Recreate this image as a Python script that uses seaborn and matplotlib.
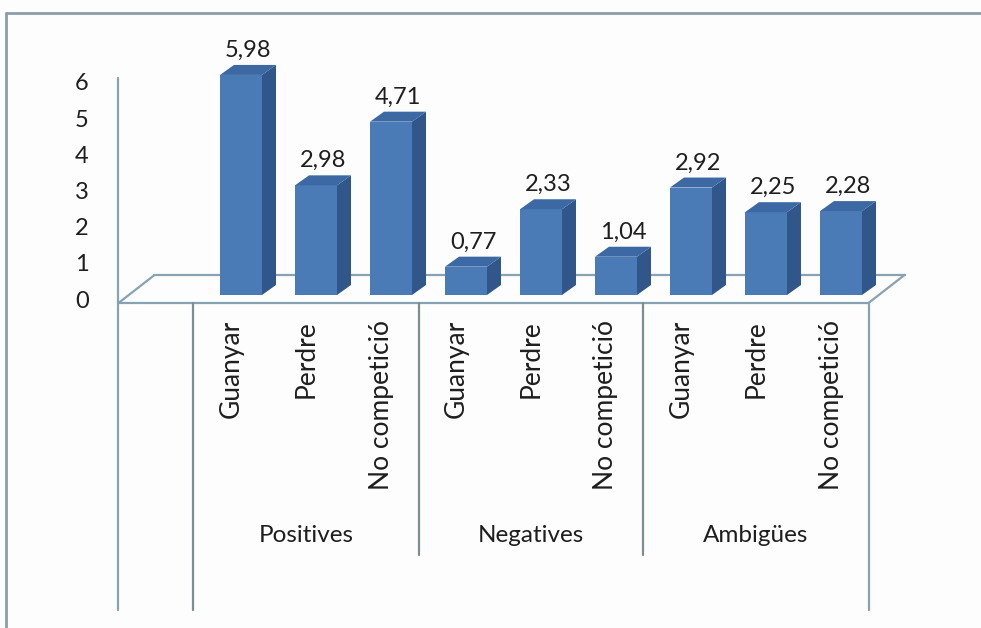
import matplotlib
matplotlib.use("Agg")
import matplotlib.pyplot as plt
import seaborn as sns
import pandas as pd
from matplotlib.patches import Polygon

# ---- data -------------------------------------------------------------
groups = ["Positives", "Negatives", "Ambigües"]
outcomes = ["Guanyar", "Perdre", "No competició"]
values_positives = [5.98, 2.98, 4.71]
values_negatives = [0.77, 2.33, 1.04]
values_ambigues = [2.92, 2.25, 2.28]
y_ticks = [0, 1, 2, 3, 4, 5, 6]

rows = []
for g, vals in zip(groups, [values_positives, values_negatives, values_ambigues]):
    for o, v in zip(outcomes, vals):
        rows.append({"grup": g, "resultat": o, "valor": v})
df = pd.DataFrame(rows)
df["slot"] = [f"{g}|{o}" for g, o in zip(df["grup"], df["resultat"])]

# ---- style ------------------------------------------------------------
sns.set_theme(style="white")
plt.rcParams["font.family"] = ["Lato", "DejaVu Sans"]

FRONT = "#4a7bb7"
SIDE = "#31578a"
TOP = "#3c68a3"
AXIS = "#86a2b3"
DIV = "#7d8d97"
TXT = "#1e1e1e"
FS_VAL = 17
FS_TICK = 17
FS_CAT = 19
FS_GRP = 17.5

W, H = 981, 628
fig = plt.figure(figsize=(W / 100, H / 100), dpi=100)
fig.patch.set_facecolor("#fdfdfd")
ax = fig.add_axes([0, 0, 1, 1])
ax.set_facecolor("#fdfdfd")

# pixel layout of the plot box
X0, DXP = 241.0, 75.0      # centre of the first bar, distance between bars
Y0, DYP = 295.0, 36.8      # baseline of the bars, pixels per unit


def px(p):
    return (p - X0) / DXP


def py(p):
    return (Y0 - p) / DYP


# depth of a column and of the front plane (category axis) offset
dx, dy = 14 / DXP, 10 / DYP
fx = -10 / DXP

sns.barplot(data=df, x="slot", y="valor", order=list(df["slot"]), color=FRONT,
            saturation=1, width=0.56, ax=ax, zorder=3, linewidth=0)

# 3D sides and tops for every column
for patch in list(ax.patches):
    x0 = patch.get_x()
    x1 = x0 + patch.get_width()
    h = patch.get_height()
    ax.add_patch(Polygon([(x1, 0), (x1 + dx, dy), (x1 + dx, h + dy), (x1, h)],
                         closed=True, facecolor=SIDE, edgecolor="none", zorder=3))
    ax.add_patch(Polygon([(x0, h), (x1, h), (x1 + dx, h + dy), (x0 + dx, h + dy)],
                         closed=True, facecolor=TOP, edgecolor="none", zorder=3))
    cx = x0 + patch.get_width() / 2 + dx / 2
    ax.annotate(f"{h:.2f}".replace(".", ","), (cx, h + dy), xytext=(0, 3),
                textcoords="offset points", ha="center", va="bottom",
                fontsize=FS_VAL, color=TXT, zorder=5)

n = len(df)
left, right = -1.5 + fx, n - 0.5 + fx
floor_front = py(303)
floor_back = py(275)
depth_x = px(152) - px(116)

# floor of the 3D box
ax.plot([left + depth_x, right + depth_x], [floor_back, floor_back],
        color=AXIS, lw=1.6, zorder=1)
ax.plot([left, left + depth_x], [floor_front, floor_back], color=AXIS, lw=1.6, zorder=1)
ax.plot([right, right + depth_x], [floor_front, floor_back], color=AXIS, lw=1.6, zorder=1)
ax.plot([left, right], [floor_front, floor_front], color=AXIS, lw=1.6, zorder=4)

# value axis
ax.plot([left, left], [py(78), py(610)], color=AXIS, lw=1.6, zorder=4)
for t in y_ticks:
    ax.text(px(82), py(301 - 36.2 * t), str(t), ha="center", va="center",
            fontsize=FS_TICK, color=TXT)

# category axis dividers
for pos, bottom, col in [(-0.5, 610, DIV), (2.5, 555, DIV), (5.5, 555, DIV),
                         (n - 0.5, 610, AXIS)]:
    ax.plot([pos + fx, pos + fx], [floor_front, py(bottom)], color=col, lw=1.6, zorder=4)

for i, o in enumerate(df["resultat"]):
    ax.text(i + fx, py(320), o, rotation=90, ha="center", va="top",
            fontsize=FS_CAT, color=TXT)

for k, g in enumerate(groups):
    ax.text(3 * k + 1 + fx, py(536), g, ha="center", va="center",
            fontsize=FS_GRP, color=TXT)

# chart frame
ax.plot([px(6), px(6)], [py(13), py(628)], color="#8c9ea8", lw=2, zorder=6, clip_on=False)
ax.plot([px(6), px(981)], [py(13), py(13)], color="#8c9ea8", lw=2, zorder=6, clip_on=False)

ax.set_xlim(px(0), px(W))
ax.set_ylim(py(H), py(0))
ax.set_axis_off()

fig.savefig("out.png", dpi=100, facecolor=fig.get_facecolor())
